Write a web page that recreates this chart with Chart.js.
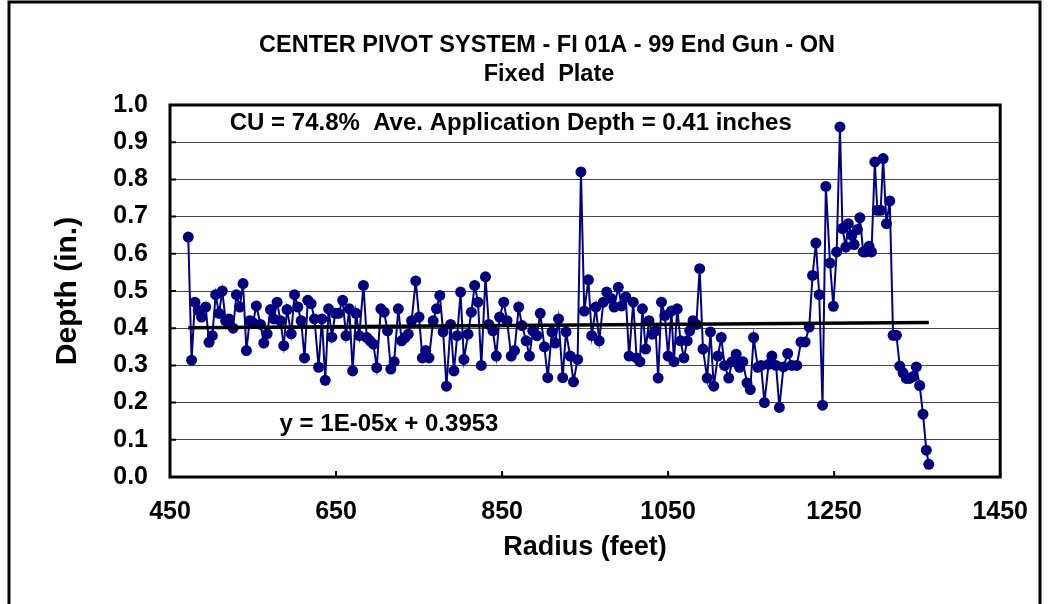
<!DOCTYPE html>
<html>
<head>
<meta charset="utf-8">
<script src="https://cdn.jsdelivr.net/npm/chart.js@4.4.1/dist/chart.umd.min.js"></script>
<style>
  html, body { margin: 0; padding: 0; background: #fff; }
  #wrap { width: 1048px; height: 604px; position: relative; }
</style>
</head>
<body>
<div id="wrap"><canvas id="chart" width="1048" height="604"></canvas></div>
<script>
// radius of each catch can (feet)
const radius = [
  472, 476, 480, 484, 488, 493, 497, 501, 505, 509, 513, 517, 521, 526, 530, 534, 538, 542, 546, 550,
  554, 559, 563, 567, 571, 575, 579, 583, 587, 591, 596, 600, 604, 608, 612, 616, 620, 624, 629, 633,
  637, 641, 645, 649, 653, 658, 662, 666, 670, 674, 678, 683, 687, 691, 695, 699, 704, 708, 712, 716,
  720, 725, 729, 733, 737, 741, 746, 750, 754, 758, 762, 767, 771, 775, 779, 783, 788, 792, 796, 800,
  804, 809, 813, 817, 821, 825, 830, 834, 839, 843, 847, 852, 856, 861, 865, 870, 874, 879, 883, 887,
  892, 896, 901, 905, 910, 914, 918, 923, 927, 932, 936, 941, 945, 949, 954, 958, 963, 967, 972, 976,
  981, 985, 990, 994, 999, 1003, 1008, 1012, 1016, 1019, 1023, 1027, 1031, 1035, 1038, 1042, 1046, 1050, 1054, 1057,
  1061, 1065, 1069, 1073, 1076, 1080, 1084, 1088, 1092, 1097, 1101, 1105, 1110, 1114, 1118, 1123, 1127, 1132, 1136, 1140,
  1145, 1149, 1153, 1158, 1162, 1166, 1171, 1175, 1180, 1184, 1189, 1194, 1199, 1205, 1210, 1215, 1220, 1224, 1228, 1232,
  1236, 1240, 1245, 1249, 1253, 1257, 1260, 1264, 1267, 1271, 1274, 1278, 1281, 1285, 1288, 1292, 1295, 1299, 1302, 1306,
  1309, 1313, 1317, 1321, 1325, 1329, 1333, 1337, 1341, 1345, 1349, 1353, 1357, 1361, 1364
];

// measured depth (in.)
const depth = [
  0.645, 0.314, 0.47, 0.448, 0.43, 0.457, 0.362, 0.38, 0.49, 0.44, 0.50, 0.42, 0.425, 0.40, 0.49, 0.457, 0.52, 0.34, 0.42, 0.415,
  0.46, 0.41, 0.36, 0.385, 0.45, 0.425, 0.47, 0.42, 0.353, 0.45, 0.385, 0.49, 0.457, 0.42, 0.32, 0.475, 0.466, 0.425, 0.295, 0.425,
  0.26, 0.452, 0.376, 0.44, 0.44, 0.475, 0.38, 0.452, 0.285, 0.44, 0.38, 0.515, 0.375, 0.366, 0.357, 0.294, 0.452, 0.443, 0.393, 0.29,
  0.31, 0.452, 0.366, 0.375, 0.384, 0.42, 0.527, 0.43, 0.32, 0.34, 0.32, 0.42, 0.452, 0.488, 0.39, 0.244, 0.41, 0.285, 0.38, 0.497,
  0.316, 0.384, 0.443, 0.515, 0.47, 0.30, 0.538, 0.41, 0.393, 0.325, 0.43, 0.47, 0.42, 0.325, 0.34, 0.457, 0.407, 0.366, 0.325, 0.393,
  0.38, 0.44, 0.35, 0.267, 0.39, 0.36, 0.425, 0.267, 0.39, 0.325, 0.256, 0.316, 0.82, 0.446, 0.53, 0.38, 0.457, 0.366, 0.47, 0.497,
  0.48, 0.457, 0.51, 0.46, 0.484, 0.325, 0.47, 0.32, 0.31, 0.452, 0.344, 0.42, 0.384, 0.393, 0.266, 0.47, 0.434, 0.325, 0.446, 0.31,
  0.452, 0.366, 0.32, 0.366, 0.393, 0.42, 0.41, 0.56, 0.344, 0.266, 0.39, 0.244, 0.325, 0.375, 0.30, 0.266, 0.31, 0.33, 0.295, 0.31,
  0.253, 0.235, 0.375, 0.295, 0.30, 0.20, 0.303, 0.325, 0.30, 0.187, 0.296, 0.332, 0.30, 0.30, 0.363, 0.363, 0.403, 0.542, 0.629, 0.49,
  0.193, 0.781, 0.575, 0.459, 0.605, 0.941, 0.668, 0.618, 0.681, 0.65, 0.625, 0.665, 0.697, 0.605, 0.605, 0.62, 0.605, 0.847, 0.717, 0.717,
  0.856, 0.681, 0.742, 0.381, 0.381, 0.298, 0.28, 0.265, 0.265, 0.27, 0.296, 0.246, 0.169, 0.072, 0.034
];

// linear trend line ends
const trendRadius = [472, 1364];
const trendDepth = [0.401, 0.415];

const titleLines = ['CENTER PIVOT SYSTEM - FI 01A - 99 End Gun - ON', 'Fixed  Plate'];
const cuText = 'CU = 74.8%  Ave. Application Depth = 0.41 inches';
const eqText = 'y = 1E-05x + 0.3953';

const FONT = '"Liberation Sans", Arial, sans-serif';

const decorations = {
  id: 'decorations',
  afterDraw(chart) {
    const { ctx, chartArea: a, scales: { x, y } } = chart;
    ctx.save();
    // outer frame
    ctx.strokeStyle = '#000';
    ctx.lineWidth = 3;
    ctx.beginPath();
    ctx.moveTo(9, 604);
    ctx.lineTo(9, 2);
    ctx.lineTo(1040, 2);
    ctx.lineTo(1040, 604);
    ctx.stroke();
    // plot frame
    ctx.lineWidth = 3;
    ctx.strokeRect(a.left, a.top, a.right - a.left, a.bottom - a.top);
    // inward tick marks
    ctx.lineWidth = 2;
    ctx.beginPath();
    y.ticks.forEach(t => {
      const py = y.getPixelForValue(t.value);
      ctx.moveTo(a.left, py);
      ctx.lineTo(a.left + 6, py);
    });
    x.ticks.forEach(t => {
      const px = x.getPixelForValue(t.value);
      ctx.moveTo(px, a.bottom);
      ctx.lineTo(px, a.bottom - 6);
    });
    ctx.stroke();
    // titles
    ctx.fillStyle = '#000';
    ctx.textAlign = 'center';
    ctx.textBaseline = 'middle';
    ctx.font = 'bold 23.5px ' + FONT;
    ctx.fillText(titleLines[0], 547, 46);
    ctx.fillText(titleLines[1], 549, 75);
    // annotations
    ctx.font = 'bold 24px ' + FONT;
    ctx.textAlign = 'left';
    ctx.fillText(cuText, x.getPixelForValue(522), y.getPixelForValue(0.951));
    ctx.fillText(eqText, x.getPixelForValue(582), y.getPixelForValue(0.142));
    ctx.restore();
  }
};

new Chart(document.getElementById('chart'), {
  type: 'scatter',
  data: {
    datasets: [
      {
        label: 'Depth',
        data: radius.map((r, i) => ({ x: r, y: depth[i] })),
        showLine: true,
        borderColor: '#000080',
        backgroundColor: '#000080',
        borderWidth: 2,
        pointRadius: 5.5,
        pointBorderWidth: 0,
        order: 2
      },
      {
        label: 'Trend',
        data: trendRadius.map((r, i) => ({ x: r, y: trendDepth[i] })),
        showLine: true,
        borderColor: '#000',
        borderWidth: 3.5,
        pointRadius: 0,
        order: 1
      }
    ]
  },
  options: {
    responsive: false,
    animation: false,
    devicePixelRatio: 1,
    layout: { padding: { top: 105, right: 46, bottom: 0, left: 0 } },
    plugins: { legend: { display: false }, tooltip: { enabled: false } },
    scales: {
      x: {
        type: 'linear',
        min: 450,
        max: 1450,
        ticks: { stepSize: 200, padding: 20, color: '#000', font: { family: FONT, size: 25, weight: 'bold' }, callback: v => String(v) },
        grid: { display: false, drawTicks: false },
        border: { display: false },
        title: { display: true, text: 'Radius (feet)', color: '#000', padding: { top: 0, bottom: 40 }, font: { family: FONT, size: 27, weight: 'bold' } },
        afterFit(scale) { scale.height = 127; }
      },
      y: {
        min: 0,
        max: 1,
        ticks: { stepSize: 0.1, padding: 22, color: '#000', font: { family: FONT, size: 25, weight: 'bold' }, callback: v => v.toFixed(1) },
        grid: { color: '#444', lineWidth: 1, drawTicks: false },
        border: { display: false },
        title: { display: true, text: 'Depth (in.)', color: '#000', padding: { top: 50, bottom: 0 }, font: { family: FONT, size: 30, weight: 'bold' } },
        afterFit(scale) { scale.width = 170; }
      }
    }
  },
  plugins: [decorations]
});
</script>
</body>
</html>
